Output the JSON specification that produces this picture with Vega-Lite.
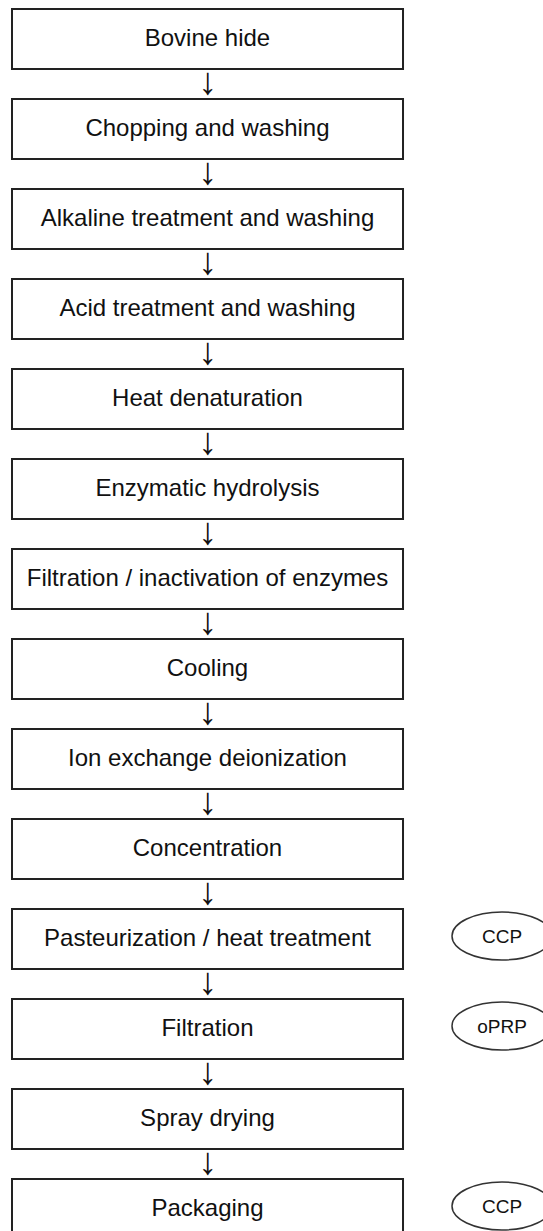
{
  "$schema": "https://vega.github.io/schema/vega-lite/v6.json",
  "width": 543,
  "height": 1248,
  "autosize": {"type": "none"},
  "padding": 0,
  "background": "white",
  "config": {"view": {"stroke": null}},
  "datasets": {
    "steps": [
      {"step": 1, "label": "Bovine hide"},
      {"step": 2, "label": "Chopping and washing"},
      {"step": 3, "label": "Alkaline treatment and washing"},
      {"step": 4, "label": "Acid treatment and washing"},
      {"step": 5, "label": "Heat denaturation"},
      {"step": 6, "label": "Enzymatic hydrolysis"},
      {"step": 7, "label": "Filtration / inactivation of enzymes"},
      {"step": 8, "label": "Cooling"},
      {"step": 9, "label": "Ion exchange deionization"},
      {"step": 10, "label": "Concentration"},
      {"step": 11, "label": "Pasteurization / heat treatment"},
      {"step": 12, "label": "Filtration"},
      {"step": 13, "label": "Spray drying"},
      {"step": 14, "label": "Packaging"}
    ],
    "controls": [
      {"step": 11, "control": "CCP"},
      {"step": 12, "control": "oPRP"},
      {"step": 14, "control": "CCP"}
    ]
  },
  "encoding": {
    "y": {
      "field": "step",
      "type": "ordinal",
      "axis": null,
      "scale": {
        "domain": [1, 2, 3, 4, 5, 6, 7, 8, 9, 10, 11, 12, 13, 14],
        "paddingInner": 0.3333,
        "paddingOuter": 0.1
      }
    }
  },
  "layer": [
    {
      "data": {"name": "steps"},
      "mark": {"type": "rect", "fill": "white", "stroke": "#222222", "strokeWidth": 2},
      "encoding": {
        "x": {"datum": 2.21, "type": "quantitative", "scale": {"domain": [0, 100], "nice": false, "zero": false}, "axis": null},
        "x2": {"datum": 74.22}
      }
    },
    {
      "data": {"name": "steps"},
      "mark": {"type": "text", "font": "Liberation Sans", "fontSize": 24, "color": "#111111", "align": "center", "baseline": "middle"},
      "encoding": {
        "x": {"datum": 38.21, "type": "quantitative"},
        "text": {"field": "label"}
      }
    },
    {
      "data": {"name": "steps"},
      "transform": [{"filter": "datum.step < 14"}],
      "mark": {"type": "text", "font": "Liberation Sans", "fontSize": 38, "color": "#111111", "align": "center", "baseline": "middle", "yOffset": 44, "text": "↓"},
      "encoding": {
        "x": {"datum": 38.21, "type": "quantitative"}
      }
    },
    {
      "data": {"name": "controls"},
      "mark": {
        "type": "point",
        "shape": "M -1 0 A 1 0.48 0 1 0 1 0 A 1 0.48 0 1 0 -1 0 Z",
        "size": 10000,
        "filled": false,
        "stroke": "#333333",
        "strokeWidth": 1.5,
        "opacity": 1,
        "yOffset": -3
      },
      "encoding": {
        "x": {"datum": 92.45, "type": "quantitative"}
      }
    },
    {
      "data": {"name": "controls"},
      "mark": {"type": "text", "font": "Liberation Sans", "fontSize": 19, "color": "#111111", "align": "center", "baseline": "middle", "yOffset": -2},
      "encoding": {
        "x": {"datum": 92.45, "type": "quantitative"},
        "text": {"field": "control"}
      }
    }
  ]
}
